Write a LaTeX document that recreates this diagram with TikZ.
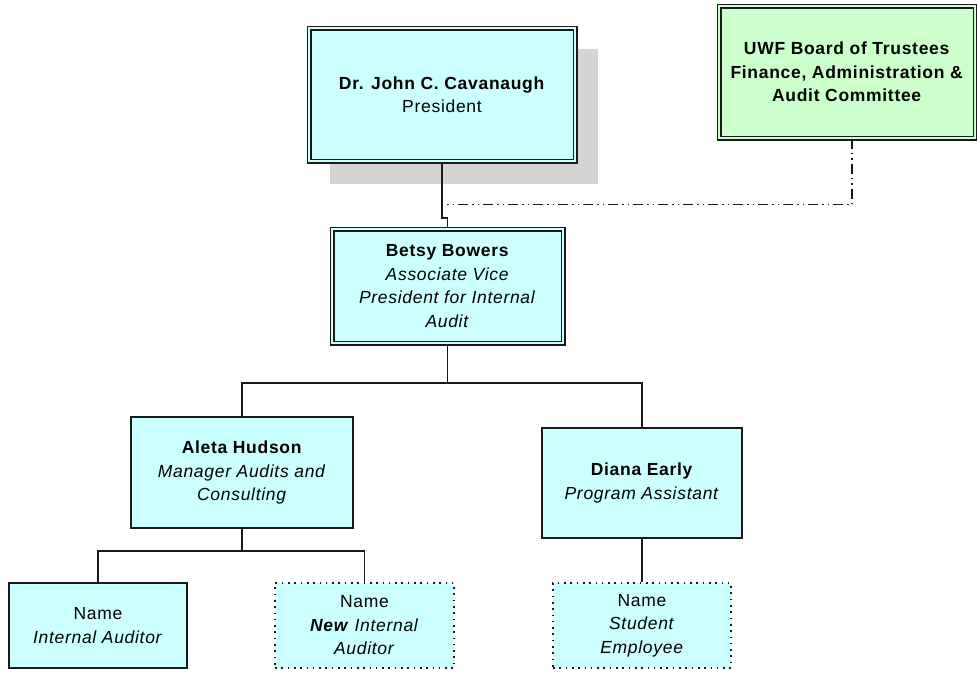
\documentclass[tikz,border=0pt]{standalone}
\usepackage{fontspec}
\setmainfont[LetterSpace=4]{Liberation Sans}
\usepackage{xcolor}
\usepackage{tikz}
\usetikzlibrary{calc}
\definecolor{boxbg}{HTML}{CCFFFF}
\definecolor{boardbg}{HTML}{CCFFCC}
\definecolor{edge}{HTML}{1A1A1A}
\definecolor{dropgrey}{HTML}{D4D4D4}
\tikzset{
  unit/.style={rectangle, fill=boxbg, draw=edge, line width=1.8pt, align=center, inner sep=0pt,
    font=\fontsize{17.5}{23.5}\selectfont},
  dbl/.style={unit, line width=1.4pt, double=boxbg, double distance=2.2pt},
  vacant/.style={unit, line width=1.6pt, dash pattern=on 1.6pt off 4.7pt},
  link/.style={draw=edge, line width=1.8pt},
  report/.style={draw=edge, line width=1.5pt, dash pattern=on 10pt off 4pt on 1.5pt off 4pt on 1.5pt off 4pt},
}
\begin{document}
\begin{tikzpicture}[x=1pt, y=-1pt]
  \useasboundingbox (0,0) rectangle (977,673);

  \fill[dropgrey] (330,49) rectangle (598,184);
  \node[dbl, minimum width=266pt, minimum height=133pt] (pres) at (442,94.5)
    {\textbf{Dr. John C. Cavanaugh}\\President};
  \node[dbl, fill=boardbg, double=boardbg, minimum width=256pt, minimum height=132pt] (board) at (847,72)
    {\textbf{UWF Board of Trustees}\\\textbf{Finance, Administration \&}\\\textbf{Audit Committee}};
  \node[dbl, minimum width=231pt, minimum height=114pt] (betsy) at (447.5,286)
    {\textbf{Betsy Bowers}\\\textit{Associate Vice}\\\textit{President for Internal}\\\textit{Audit}};
  \node[unit, minimum width=222pt, minimum height=111pt] (aleta) at (242,472.5)
    {\textbf{Aleta Hudson}\\\textit{Manager Audits and}\\\textit{Consulting}};
  \node[unit, minimum width=200pt, minimum height=110pt] (diana) at (642,483)
    {\textbf{Diana Early}\\\textit{Program Assistant}};
  \node[unit, minimum width=178pt, minimum height=85pt] (aud) at (98,625.5)
    {Name\\\textit{Internal Auditor}};
  \node[vacant, minimum width=179pt, minimum height=85pt] (newaud) at (364.5,625.5)
    {Name\\\textbf{\textit{New}} \textit{Internal}\\\textit{Auditor}};
  \node[vacant, minimum width=178pt, minimum height=85pt] (student) at (642,625.5)
    {Name\\\textit{Student}\\\textit{Employee}};

  \draw[link] (pres.south) -- ++(0,56) -| (betsy.north);
  \draw[report] ($(board.south)+(5,0)$) |- ($(pres.south)+(0,43)$);
  \draw[link] (betsy.south) -- ++(0,39) -| (aleta.north);
  \draw[link] (betsy.south) ++(0,39) -| (diana.north);
  \draw[link] (aleta.south) -- ++(0,22) -| (aud.north);
  \draw[link] (aleta.south) ++(0,22) -| (newaud.north);
  \draw[link] (diana.south) -- (student.north);
\end{tikzpicture}
\end{document}
